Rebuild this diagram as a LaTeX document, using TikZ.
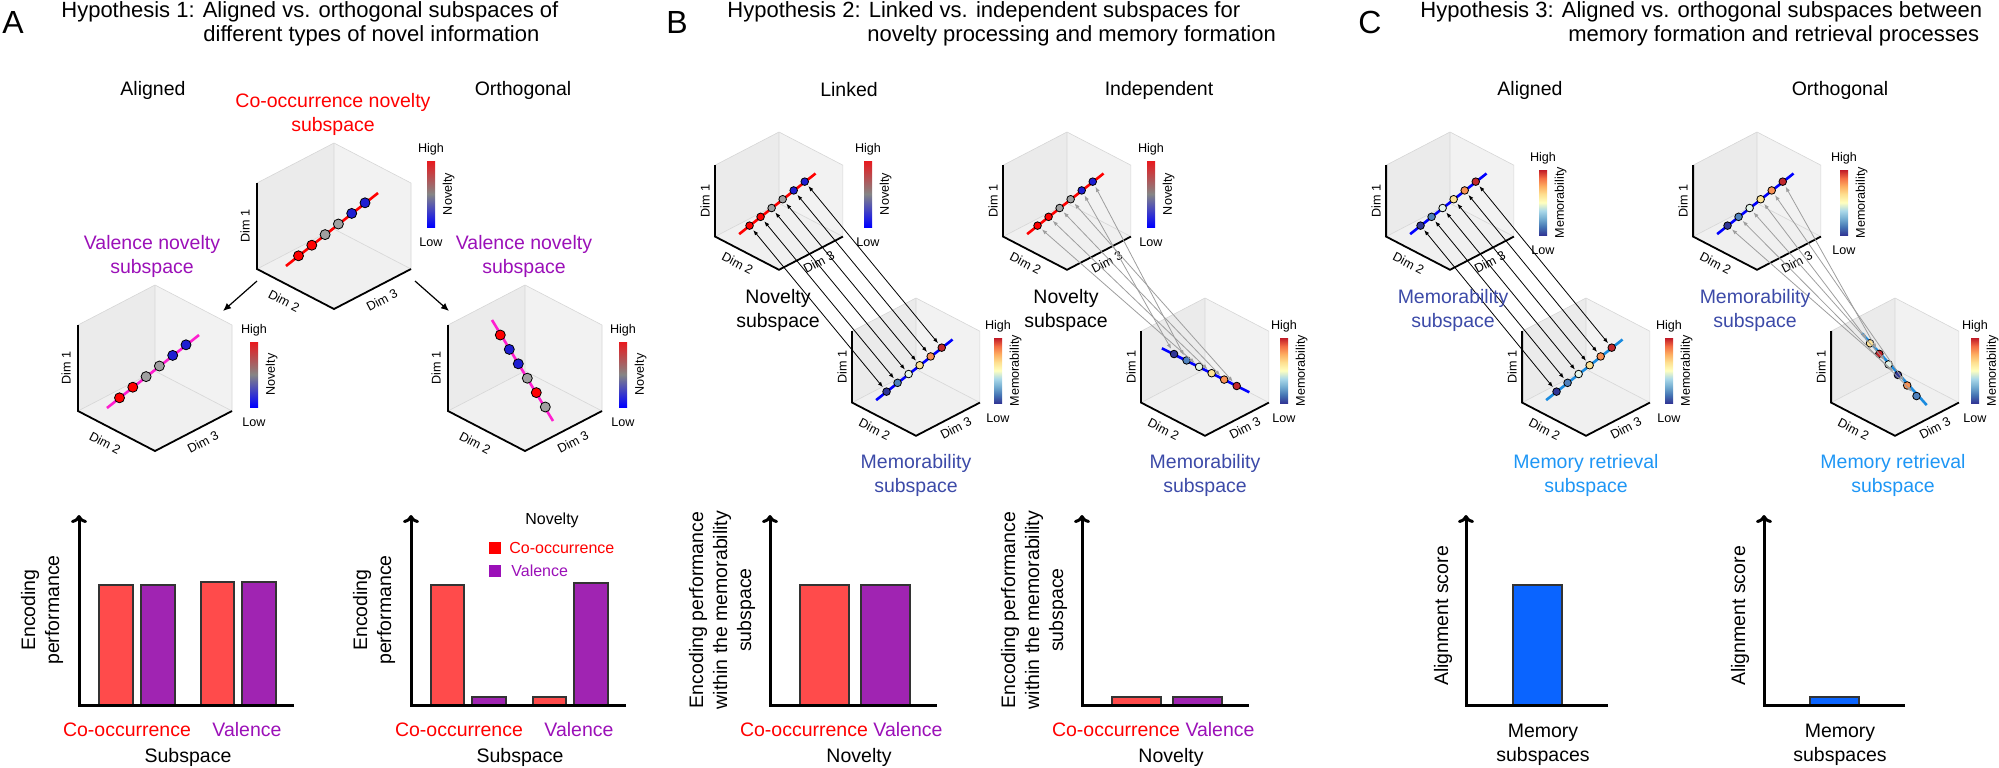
\documentclass[tikz,border=0pt]{standalone}
\usepackage{fontspec}
\setmainfont{Liberation Sans}
\usetikzlibrary{arrows.meta}

\definecolor{nred}{HTML}{FF0000}
\definecolor{ngray}{HTML}{A0A0A0}
\definecolor{nblue}{HTML}{1E1ED2}
\definecolor{cbred}{HTML}{E8191E}
\definecolor{cbgray}{HTML}{858585}
\definecolor{cbblue}{HTML}{0000FF}
\definecolor{vpurple}{HTML}{9B10B8}
\definecolor{vmagenta}{HTML}{FF1ECF}
\definecolor{memtext}{HTML}{3C4AA8}
\definecolor{rettext}{HTML}{1E96F5}
\definecolor{retline}{HTML}{1A8BDF}
\definecolor{barred}{HTML}{FF4B4B}
\definecolor{barpurple}{HTML}{A024B2}
\definecolor{barblue}{HTML}{0A64FF}
\definecolor{m1}{HTML}{313695}
\definecolor{m2}{HTML}{4575B4}
\definecolor{m3}{HTML}{74ADD1}
\definecolor{m4}{HTML}{ABD9E9}
\definecolor{m5}{HTML}{FFFFBF}
\definecolor{m6}{HTML}{FEE090}
\definecolor{m7}{HTML}{FDAE61}
\definecolor{m8}{HTML}{F46D43}
\definecolor{m9}{HTML}{C01A27}
\definecolor{pt1}{HTML}{313695}
\definecolor{pt2}{HTML}{4F81BD}
\definecolor{pt3}{HTML}{E3F4EA}
\definecolor{pt4}{HTML}{FEE395}
\definecolor{pt5}{HTML}{F99155}
\definecolor{pt6}{HTML}{C1272D}

\pgfdeclareverticalshading{novbar}{100bp}{color(0bp)=(cbblue); color(25bp)=(cbblue); color(50bp)=(cbgray); color(75bp)=(cbred); color(100bp)=(cbred)}
\pgfdeclareverticalshading{membar}{100bp}{color(0bp)=(m1); color(25bp)=(m1); color(31.25bp)=(m2); color(37.5bp)=(m3); color(43.75bp)=(m4); color(50bp)=(m5); color(56.25bp)=(m6); color(62.5bp)=(m7); color(68.75bp)=(m8); color(75bp)=(m9); color(100bp)=(m9)}

% cube with three grey panes, origin at its top vertex
\newcommand{\cubebox}[1]{%
  \fill[paneL] (0,0) -- (-77,40) -- (-77,126) -- (0,86) -- cycle;
  \fill[paneR] (0,0) -- (77,40) -- (77,126) -- (0,86) -- cycle;
  \fill[paneF] (0,86) -- (-77,126) -- (0,166) -- (77,126) -- cycle;
  \draw[paneedge] (-77,40) -- (0,0) -- (77,40) -- (77,126);
  \draw[paneedge] (0,0) -- (0,86) -- (-77,126);
  \draw[paneedge] (0,86) -- (77,126);
  \draw[cubeaxis] (-77,40) -- (-77,126) -- (0,166) -- (77,126);
  \node[small, rotate=90] (#1-d1) at (-89,83) {Dim 1};
  \node[small, rotate=-27.5] (#1-d2) at (-50,158) {Dim 2};
  \node[small, rotate=27.5] (#1-d3) at (48,157) {Dim 3};
}

% colour bar: name, x, top, bottom, shading, label
\newcommand{\cbar}[6]{%
  \shade[shading=#5] (#2-4,#3) rectangle (#2+4,#4);
  \node[small] (#1-hi) at (#2,#3-12) {High};
  \node[small] (#1-lo) at (#2,#4+15) {Low};
  \node[small, rotate=90] (#1-lab) at (#2+17.5,{(#3+#4)/2}) {#6};
}

\begin{document}
\begin{tikzpicture}[
  x=0.5pt, y=-0.5pt,
  lab/.style={font=\fontsize{9.75}{12}\selectfont, align=center, inner sep=0pt},
  ttl/.style={font=\fontsize{11}{11.5}\selectfont, anchor=base west, inner sep=0pt},
  letter/.style={font=\fontsize{16}{16}\selectfont, inner sep=0pt},
  small/.style={font=\fontsize{6.3}{7}\selectfont, inner sep=0pt},
  legend/.style={font=\fontsize{8}{9}\selectfont, inner sep=0pt},
  paneL/.style={fill=black!8},
  paneR/.style={fill=black!5},
  paneF/.style={fill=black!6},
  paneedge/.style={draw=black!16, line width=0.3pt},
  cubeaxis/.style={line width=0.9pt, line join=miter},
  dotA/.style={circle, draw=black, line width=0.4pt, minimum size=5pt, inner sep=0pt},
  dotB/.style={circle, draw=black, line width=0.4pt, minimum size=3.8pt, inner sep=0pt},
  trace/.style={line width=1.3pt},
  cubearr/.style={-{Latex[length=4pt,width=3.5pt]}, line width=0.6pt},
  linkarr/.style={>={Latex[length=2.6pt,width=2pt]}, <->, line width=0.4pt, shorten <=0.8pt, shorten >=0.8pt},
  indarr/.style={>={Latex[length=2.6pt,width=2pt]}, <->, draw=black!38, line width=0.4pt, shorten <=0.8pt, shorten >=0.8pt},
  chartax/.style={line width=1.5pt, line join=miter, -{To[length=4pt,width=8pt]}},
  bar/.style={draw=black!80, line width=0.6pt},
  legsq/.style={minimum size=6pt, inner sep=0pt}
]
\useasboundingbox (0,0) rectangle (1999,767);

% ---------------- Panel A ----------------
\node[letter] (letA) at (13,22) {A};
\node[ttl] (ttlA1) at (61,17) {Hypothesis 1: Aligned vs. orthogonal subspaces of};
\node[ttl] (ttlA2) at (203,41) {different types of novel information};
\node[lab] (hdA1) at (153,90) {Aligned};
\node[lab] (hdA2) at (523,90) {Orthogonal};

\node[lab, text=nred] (coSub) at (333,114) {Co-occurrence novelty\\subspace};
\node[lab, text=vpurple] (vaSubL) at (152,256) {Valence novelty\\subspace};
\node[lab, text=vpurple] (vaSubR) at (524,256) {Valence novelty\\subspace};

% co-occurrence cube
\begin{scope}[shift={(334,143)}]
  \cubebox{cA}
  \draw[trace, nred] (-48,123) -- (44,50);
  \foreach \c [count=\k from 0] in {nred,nred,ngray,ngray,nblue,nblue}
    \node[dotA, fill=\c] (cA-p\k) at ({-35.5+13.3*\k},{112.8-10.6*\k}) {};
\end{scope}
\cbar{cbA}{431}{161}{227}{novbar}{Novelty}

% aligned valence cube
\begin{scope}[shift={(155,285)}]
  \cubebox{vL}
  \draw[trace, vmagenta] (-48,123) -- (44,50);
  \foreach \c [count=\k from 0] in {nred,nred,ngray,ngray,nblue,nblue}
    \node[dotA, fill=\c] (vL-p\k) at ({-35.5+13.3*\k},{112.8-10.6*\k}) {};
\end{scope}
\cbar{cbL}{254}{342}{407}{novbar}{Novelty}

% orthogonal valence cube
\begin{scope}[shift={(525,285)}]
  \cubebox{vR}
  \draw[trace, vmagenta] (-33,35) -- (28,136);
  \foreach \c [count=\k from 0] in {nred,nblue,nblue,ngray,nred,ngray}
    \node[dotA, fill=\c] (vR-p\k) at ({-24.7+9*\k},{50+14.4*\k}) {};
\end{scope}
\cbar{cbR}{623}{342}{407}{novbar}{Novelty}

\coordinate (cA-outL) at (257,281);
\coordinate (vL-in) at (223,311);
\coordinate (cA-outR) at (415,281);
\coordinate (vR-in) at (449,311);
\draw[cubearr] (cA-outL) -- (vL-in);
\draw[cubearr] (cA-outR) -- (vR-in);

% bar chart, aligned
\draw[bar, fill=barred] (99,705) rectangle (133,585);
\draw[bar, fill=barpurple] (141,705) rectangle (175,585);
\draw[bar, fill=barred] (201,705) rectangle (234,582);
\draw[bar, fill=barpurple] (242,705) rectangle (276,582);
\draw[chartax] (294,705) -- (79,705) -- (79,515);
\node[lab, rotate=90] (yA1) at (42,610) {Encoding\\performance};
\node[lab, text=nred] (xA1a) at (127,730) {Co-occurrence};
\node[lab, text=vpurple] (xA1b) at (247,730) {Valence};
\node[lab] (xA1) at (188,757) {Subspace};

% bar chart, orthogonal
\draw[bar, fill=barred] (431,705) rectangle (464,585);
\draw[bar, fill=barpurple] (472,705) rectangle (506,697);
\draw[bar, fill=barred] (533,705) rectangle (566,697);
\draw[bar, fill=barpurple] (574,705) rectangle (608,583);
\draw[chartax] (626,705) -- (411,705) -- (411,515);
\node[lab, rotate=90] (yA2) at (374,610) {Encoding\\performance};
\node[lab, text=nred] (xA2a) at (459,730) {Co-occurrence};
\node[lab, text=vpurple] (xA2b) at (579,730) {Valence};
\node[lab] (xA2) at (520,757) {Subspace};
\node[legend, anchor=west] (legT) at (525,520) {Novelty};
\node[legsq, fill=nred] (legRsq) at (495,548) {};
\node[legend, anchor=west, text=nred] (legR) at (509,548) {Co-occurrence};
\node[legsq, fill=vpurple] (legPsq) at (495,571) {};
\node[legend, anchor=west, text=vpurple] (legP) at (511,571) {Valence};

% ---------------- Panel B ----------------
\node[letter] (letB) at (677,22) {B};
\node[ttl] (ttlB1) at (727,17) {Hypothesis 2: Linked vs. independent subspaces for};
\node[ttl] (ttlB2) at (867,41) {novelty processing and memory formation};
\node[lab] (hdB1) at (849,90) {Linked};
\node[lab] (hdB2) at (1159,90) {Independent};

% linked
\begin{scope}[shift={(779,132)}, scale=0.83]
  \cubebox{lkT}
  \draw[trace, nred] (-48,123) -- (44,50);
  \foreach \c [count=\k from 0] in {nred,nred,ngray,ngray,nblue,nblue}
    \node[dotB, fill=\c] (lkT-p\k) at ({-35.5+13.3*\k},{112.8-10.6*\k}) {};
\end{scope}
\cbar{cbLT}{868}{161}{227}{novbar}{Novelty}
\begin{scope}[shift={(916,298)}, scale=0.83]
  \cubebox{lkB}
  \draw[trace, cbblue] (-48,123) -- (44,50);
  \foreach \c [count=\k from 0] in {pt1,pt2,pt3,pt4,pt5,pt6}
    \node[dotB, fill=\c] (lkB-p\k) at ({-35.5+13.3*\k},{112.8-10.6*\k}) {};
\end{scope}
\cbar{cbLB}{998}{338}{403}{membar}{Memorability}
\foreach \k in {0,...,5}
  \draw[linkarr] (lkT-p\k) -- (lkB-p\k);
\node[lab] (novSubL) at (778,310) {Novelty\\subspace};
\node[lab, text=memtext] (memSubL) at (916,475) {Memorability\\subspace};

% independent
\begin{scope}[shift={(1067,132)}, scale=0.83]
  \cubebox{inT}
  \draw[trace, nred] (-48,123) -- (44,50);
  \foreach \c [count=\k from 0] in {nred,nred,ngray,ngray,nblue,nblue}
    \node[dotB, fill=\c] (inT-p\k) at ({-35.5+13.3*\k},{112.8-10.6*\k}) {};
\end{scope}
\cbar{cbIT}{1151}{161}{227}{novbar}{Novelty}
\begin{scope}[shift={(1205,298)}, scale=0.83]
  \cubebox{inB}
  \draw[trace, cbblue] (-52,60.6) -- (53.4,113.6);
  \foreach \c [count=\k from 0] in {pt1,pt2,pt3,pt4,pt5,pt6}
    \node[dotB, fill=\c] (inB-p\k) at ({-37.3+15.1*\k},{67.5+7.7*\k}) {};
\end{scope}
\cbar{cbIB}{1284}{338}{403}{membar}{Memorability}
\foreach \a/\b in {0/2,1/3,2/4,3/5,4/0,5/1}
  \draw[indarr] (inT-p\a) -- (inB-p\b);
\node[lab] (novSubI) at (1066,310) {Novelty\\subspace};
\node[lab, text=memtext] (memSubI) at (1205,475) {Memorability\\subspace};

% bar charts
\draw[bar, fill=barred] (800,705) rectangle (849,585);
\draw[bar, fill=barpurple] (861,705) rectangle (910,585);
\draw[chartax] (937,705) -- (770,705) -- (770,515);
\node[lab, rotate=90] (yB1) at (722,610) {Encoding performance\\within the memorability\\subspace};
\node[lab, text=nred] (xB1a) at (804,730) {Co-occurrence};
\node[lab, text=vpurple] (xB1b) at (908,730) {Valence};
\node[lab] (xB1) at (859,757) {Novelty};

\draw[bar, fill=barred] (1112,705) rectangle (1161,697);
\draw[bar, fill=barpurple] (1173,705) rectangle (1222,697);
\draw[chartax] (1249,705) -- (1082,705) -- (1082,515);
\node[lab, rotate=90] (yB2) at (1034,610) {Encoding performance\\within the memorability\\subspace};
\node[lab, text=nred] (xB2a) at (1116,730) {Co-occurrence};
\node[lab, text=vpurple] (xB2b) at (1220,730) {Valence};
\node[lab] (xB2) at (1171,757) {Novelty};

% ---------------- Panel C ----------------
\node[letter] (letC) at (1370,22) {C};
\node[ttl] (ttlC1) at (1420,17) {Hypothesis 3: Aligned vs. orthogonal subspaces between};
\node[ttl] (ttlC2) at (1568,41) {memory formation and retrieval processes};
\node[lab] (hdC1) at (1530,90) {Aligned};
\node[lab] (hdC2) at (1840,90) {Orthogonal};

% aligned
\begin{scope}[shift={(1450,132)}, scale=0.83]
  \cubebox{alT}
  \draw[trace, cbblue] (-48,123) -- (44,50);
  \foreach \c [count=\k from 0] in {pt1,pt2,pt3,pt4,pt5,pt6}
    \node[dotB, fill=\c] (alT-p\k) at ({-35.5+13.3*\k},{112.8-10.6*\k}) {};
\end{scope}
\cbar{cbAT}{1543}{170}{235}{membar}{Memorability}
\begin{scope}[shift={(1586,298)}, scale=0.83]
  \cubebox{alB}
  \draw[trace, retline] (-48,123) -- (44,50);
  \foreach \c [count=\k from 0] in {pt1,pt2,pt3,pt4,pt5,pt6}
    \node[dotB, fill=\c] (alB-p\k) at ({-35.5+13.3*\k},{112.8-10.6*\k}) {};
\end{scope}
\cbar{cbAB}{1669}{338}{403}{membar}{Memorability}
\foreach \k in {0,...,5}
  \draw[linkarr] (alT-p\k) -- (alB-p\k);
\node[lab, text=memtext] (memSubA) at (1453,310) {Memorability\\subspace};
\node[lab, text=rettext] (retSubA) at (1586,475) {Memory retrieval\\subspace};

% orthogonal
\begin{scope}[shift={(1757,132)}, scale=0.83]
  \cubebox{orT}
  \draw[trace, cbblue] (-48,123) -- (44,50);
  \foreach \c [count=\k from 0] in {pt1,pt2,pt3,pt4,pt5,pt6}
    \node[dotB, fill=\c] (orT-p\k) at ({-35.5+13.3*\k},{112.8-10.6*\k}) {};
\end{scope}
\cbar{cbOT}{1844}{170}{235}{membar}{Memorability}
\begin{scope}[shift={(1895,298)}, scale=0.83]
  \cubebox{orB}
  \draw[trace, retline] (-40,42.5) -- (38.2,129);
  \foreach \c [count=\k from 0] in {pt4,pt6,pt3,pt1,pt5,pt2}
    \node[dotB, fill=\c] (orB-p\k) at ({-30.1+11.2*\k},{54.6+12.7*\k}) {};
\end{scope}
\cbar{cbOB}{1975}{338}{403}{membar}{Memorability}
\foreach \a/\b in {0/3,1/5,2/2,3/0,4/4,5/1}
  \draw[indarr] (orT-p\a) -- (orB-p\b);
\node[lab, text=memtext] (memSubO) at (1755,310) {Memorability\\subspace};
\node[lab, text=rettext] (retSubO) at (1893,475) {Memory retrieval\\subspace};

% bar charts
\draw[bar, fill=barblue] (1513,705) rectangle (1562,585);
\draw[chartax] (1608,705) -- (1466,705) -- (1466,515);
\node[lab, rotate=90] (yC1) at (1443,616) {Alignment score};
\node[lab] (xC1) at (1543,745) {Memory\\subspaces};

\draw[bar, fill=barblue] (1810,705) rectangle (1859,697);
\draw[chartax] (1905,705) -- (1764,705) -- (1764,515);
\node[lab, rotate=90] (yC2) at (1740,616) {Alignment score};
\node[lab] (xC2) at (1840,745) {Memory\\subspaces};

\end{tikzpicture}
\end{document}
